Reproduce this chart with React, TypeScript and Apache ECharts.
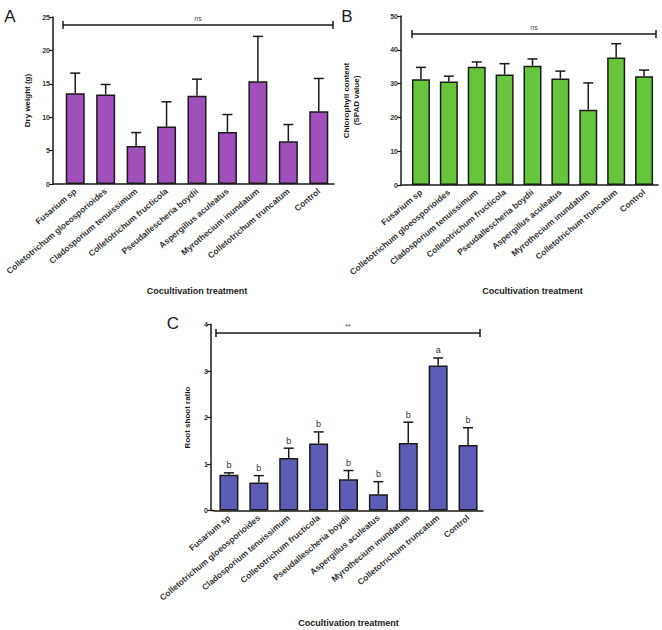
import React, { useEffect, useRef } from "react";
import * as echarts from "echarts";

// Fungal cocultivation treatments (shared by all three panels)
const categories = [
  "Fusarium sp",
  "Colletotrichum gloeosporioides",
  "Cladosporium tenuissimum",
  "Colletotrichum fructicola",
  "Pseudallescheria boydii",
  "Aspergillus aculeatus",
  "Myrothecium inundatum",
  "Colletotrichum truncatum",
  "Control",
];

// A: dry weight (g), mean and SD
const dryWeightMean = [13.6, 13.4, 5.7, 8.6, 13.2, 7.8, 15.4, 6.4, 10.9];
const dryWeightSd = [3.0, 1.5, 2.0, 3.7, 2.5, 2.6, 6.7, 2.5, 4.9];

// B: chlorophyll content (SPAD value), mean and SD
const chlorophyllMean = [31.3, 30.6, 35.0, 32.7, 35.3, 31.5, 22.3, 37.7, 32.2];
const chlorophyllSd = [3.5, 1.6, 1.4, 3.2, 2.0, 2.2, 7.9, 4.1, 1.8];

// C: root/shoot ratio, mean, SD and significance groups
const rootShootMean = [0.77, 0.6, 1.13, 1.44, 0.67, 0.35, 1.45, 3.12, 1.41];
const rootShootSd = [0.04, 0.15, 0.21, 0.25, 0.19, 0.27, 0.45, 0.16, 0.37];
const rootShootGroups = ["b", "b", "b", "b", "b", "b", "b", "a", "b"];

const FONT = "Liberation Sans, Arial, sans-serif";
const INK = "#1a1a1a";

function errorSeries(
  axisIndex: number,
  mean: number[],
  sd: number[],
  groups?: string[]
) {
  return {
    type: "custom",
    xAxisIndex: axisIndex,
    yAxisIndex: axisIndex,
    z: 5,
    data: mean.map((m, i) => [i, m, sd[i]]),
    encode: { x: 0, y: 1 },
    renderItem: (params: any, api: any) => {
      const i = api.value(0);
      const m = api.value(1);
      const s = api.value(2);
      const base = api.coord([i, m]);
      const top = api.coord([i, m + s]);
      const cap = 5;
      const children: any[] = [
        {
          type: "line",
          shape: { x1: base[0], y1: base[1], x2: top[0], y2: top[1] },
          style: { stroke: INK, lineWidth: 1.5 },
        },
        {
          type: "line",
          shape: { x1: top[0] - cap, y1: top[1], x2: top[0] + cap, y2: top[1] },
          style: { stroke: INK, lineWidth: 1.5 },
        },
      ];
      if (groups) {
        children.push({
          type: "text",
          x: top[0],
          y: top[1] - 3,
          style: {
            text: groups[params.dataIndex],
            fontFamily: FONT,
            fontSize: 9,
            fill: "#333",
            align: "center",
            verticalAlign: "bottom",
          },
        });
      }
      return { type: "group", children };
    },
  };
}

function barSeries(axisIndex: number, mean: number[], color: string, width: number) {
  return {
    type: "bar",
    xAxisIndex: axisIndex,
    yAxisIndex: axisIndex,
    barWidth: width,
    data: mean,
    itemStyle: { color, borderColor: INK, borderWidth: 1.5 },
  };
}

function xAxis(gridIndex: number, nameGap: number) {
  return {
    type: "category",
    gridIndex,
    data: categories,
    name: "Cocultivation treatment",
    nameLocation: "middle",
    nameGap,
    nameTextStyle: { fontFamily: FONT, fontSize: 9, fontWeight: "bold", color: INK },
    axisLine: { lineStyle: { color: INK, width: 1.5 } },
    axisTick: { alignWithLabel: true, length: 4, lineStyle: { color: INK, width: 1.2 } },
    axisLabel: {
      interval: 0,
      rotate: 40,
      margin: 6,
      fontFamily: FONT,
      fontSize: 8.5,
      fontWeight: "bold",
      color: "#333",
    },
  };
}

function yAxis(
  gridIndex: number,
  max: number,
  interval: number,
  name: string,
  nameGap: number,
  offset: number
) {
  return {
    type: "value",
    gridIndex,
    min: 0,
    max,
    interval,
    offset,
    name,
    nameLocation: "middle",
    nameGap,
    nameTextStyle: {
      fontFamily: FONT,
      fontSize: 8,
      fontWeight: "bold",
      color: INK,
      lineHeight: 10,
    },
    splitLine: { show: false },
    axisLine: { show: true, lineStyle: { color: INK, width: 1.5 } },
    axisTick: { show: true, length: 4, lineStyle: { color: INK, width: 1.2 } },
    axisLabel: { fontFamily: FONT, fontSize: 7, fontWeight: "bold", color: "#333", margin: 3 },
  };
}

// Significance bracket spanning all treatments, with its annotation text
function bracket(x1: number, x2: number, y: number, label: string) {
  const line = { stroke: INK, lineWidth: 1.5 };
  return {
    type: "group",
    children: [
      { type: "line", shape: { x1, y1: y, x2, y2: y }, style: line },
      { type: "line", shape: { x1, y1: y - 4, x2: x1, y2: y + 4 }, style: line },
      { type: "line", shape: { x1: x2, y1: y - 4, x2, y2: y + 4 }, style: line },
      {
        type: "text",
        x: (x1 + x2) / 2,
        y: y - 3,
        style: {
          text: label,
          fontFamily: FONT,
          fontSize: 7,
          fill: "#444",
          align: "center",
          verticalAlign: "bottom",
        },
      },
    ],
  };
}

function panelLetter(text: string, x: number, y: number) {
  return {
    type: "text",
    x,
    y,
    style: {
      text,
      fontFamily: FONT,
      fontSize: 17,
      fill: INK,
      align: "center",
      verticalAlign: "middle",
    },
  };
}

function axisStub(x1: number, x2: number, y: number) {
  return {
    type: "line",
    shape: { x1, y1: y, x2, y2: y },
    style: { stroke: INK, lineWidth: 1.5 },
  };
}

export default function App() {
  const ref = useRef<HTMLDivElement>(null);

  useEffect(() => {
    document.body.style.margin = "0";
    if (!ref.current) return;
    const chart = echarts.init(ref.current, null, { renderer: "svg" });

    chart.setOption({
      animation: false,
      backgroundColor: "#ffffff",
      grid: [
        { left: 60, top: 17, width: 274, height: 167 },
        { left: 407, top: 16, width: 251, height: 169 },
        { left: 214, top: 324.5, width: 269, height: 186 },
      ],
      xAxis: [xAxis(0, 102), xAxis(1, 101), xAxis(2, 108)],
      yAxis: [
        yAxis(0, 25, 5, "Dry weight (g)", 21, 7),
        yAxis(1, 50, 10, "Chlorophyll content\n(SPAD value)", 40, 6),
        yAxis(2, 4, 1, "Root shoot ratio", 19, 3),
      ],
      series: [
        barSeries(0, dryWeightMean, "#a14fbb", 19),
        errorSeries(0, dryWeightMean, dryWeightSd),
        barSeries(1, chlorophyllMean, "#66c53a", 18),
        errorSeries(1, chlorophyllMean, chlorophyllSd),
        barSeries(2, rootShootMean, "#5d5db8", 19),
        errorSeries(2, rootShootMean, rootShootSd, rootShootGroups),
      ],
      graphic: [
        axisStub(53, 60, 184),
        axisStub(401, 407, 185),
        axisStub(211, 214, 510.5),
        bracket(63, 333, 25, "ns"),
        bracket(412, 656, 34, "ns"),
        bracket(216, 480, 333, "**"),
        panelLetter("A", 10, 16),
        panelLetter("B", 347, 16),
        panelLetter("C", 173, 323),
      ],
    });

    return () => chart.dispose();
  }, []);

  return <div ref={ref} style={{ width: 662, height: 630 }} />;
}
